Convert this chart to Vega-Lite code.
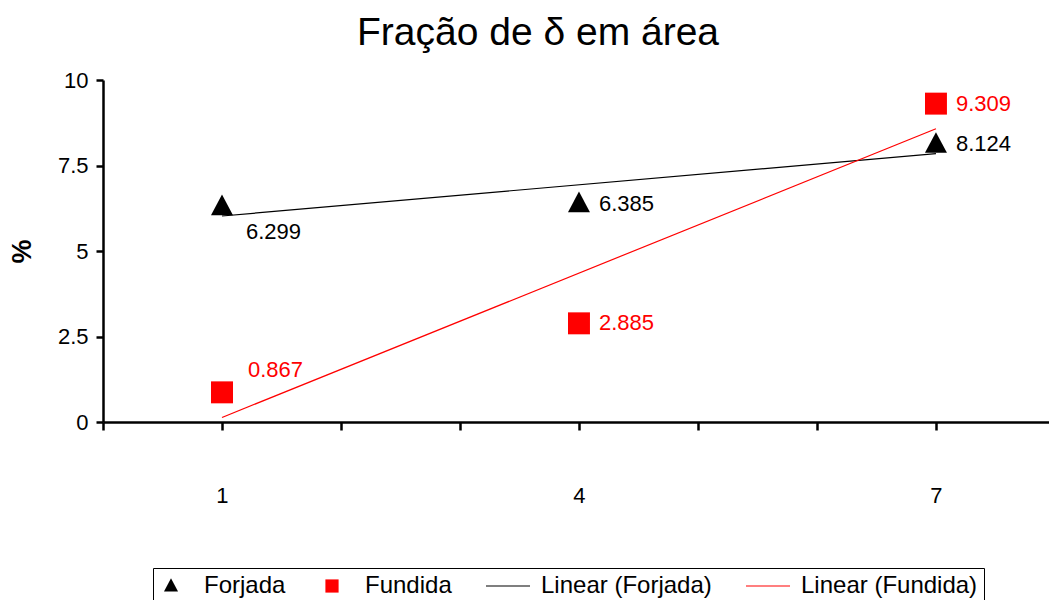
{
  "$schema": "https://vega.github.io/schema/vega-lite/v6.json",
  "width": 946,
  "height": 342,
  "autosize": {"type": "none"},
  "padding": {"left": 103, "top": 80, "right": 0, "bottom": 178},
  "background": "white",
  "config": {
    "font": "Liberation Sans",
    "view": {"stroke": null},
    "axis": {"labelFont": "Liberation Sans", "titleFont": "Liberation Sans", "labelColor": "black", "domainColor": "black", "tickColor": "black", "grid": false, "labelFontSize": 22, "domainWidth": 2.5, "tickWidth": 2.5}
  },
  "title": {"text": "Fração de δ em área", "fontSize": 39, "fontWeight": "normal", "font": "Liberation Sans", "color": "black", "anchor": "middle", "dx": -38, "offset": 16},
  "data": {"values": [
    {"x": 1, "y": 6.299, "series": "Forjada", "trend": "Linear (Forjada)", "pos": "below"},
    {"x": 4, "y": 6.385, "series": "Forjada", "trend": "Linear (Forjada)", "pos": "right"},
    {"x": 7, "y": 8.124, "series": "Forjada", "trend": "Linear (Forjada)", "pos": "right"},
    {"x": 1, "y": 0.867, "series": "Fundida", "trend": "Linear (Fundida)", "pos": "above"},
    {"x": 4, "y": 2.885, "series": "Fundida", "trend": "Linear (Fundida)", "pos": "right"},
    {"x": 7, "y": 9.309, "series": "Fundida", "trend": "Linear (Fundida)", "pos": "right"}
  ]},
  "encoding": {
    "x": {"field": "x", "type": "quantitative", "scale": {"domain": [0, 7.95], "nice": false, "zero": false},
      "axis": {"title": null, "values": [0, 1, 2, 3, 4, 5, 6, 7], "labelExpr": "datum.value == 1 || datum.value == 4 || datum.value == 7 ? datum.value : ''", "tickSize": 8, "labelPadding": 55}},
    "y": {"field": "y", "type": "quantitative", "scale": {"domain": [0, 10], "nice": false},
      "axis": {"title": "%", "titleFontSize": 27, "titleFontWeight": "bold", "titleColor": "black", "titlePadding": 21, "values": [0, 2.5, 5, 7.5, 10], "labelExpr": "datum.value", "tickSize": 7, "labelPadding": 8}},
    "color": {"field": "series", "type": "nominal",
      "scale": {"domain": ["Forjada", "Fundida", "Linear (Forjada)", "Linear (Fundida)"], "range": ["black", "red", "black", "red"]},
      "legend": {"title": null, "orient": "none", "legendX": 50, "legendY": 488, "direction": "horizontal", "columns": 4, "labelFontSize": 24, "labelFont": "Liberation Sans", "labelColor": "black", "labelLimit": 400, "strokeColor": "black", "fillColor": "white", "padding": 6, "columnPadding": 34, "labelOffset": 21, "symbolSize": 484, "symbolStrokeWidth": 0}}
  },
  "layer": [
    {
      "data": {"values": [{}]},
      "mark": {"type": "rule", "color": "#808080", "strokeWidth": 2},
      "encoding": {"y": {"datum": 10}, "x": null, "color": null}
    },
    {
      "transform": [{"regression": "y", "on": "x", "groupby": ["trend"], "extent": [1, 7]}],
      "mark": {"type": "line", "strokeWidth": 1.2},
      "encoding": {"color": null, "stroke": {"field": "trend", "type": "nominal", "scale": {"domain": ["Linear (Forjada)", "Linear (Fundida)"], "range": ["black", "red"]}, "legend": null}}
    },
    {
      "transform": [{"filter": "datum.series == 'Forjada'"}],
      "mark": {"type": "point", "filled": true, "opacity": 1, "size": 1180},
      "encoding": {
        "shape": {"field": "series", "type": "nominal", "scale": {"domain": ["Forjada", "Fundida", "Linear (Forjada)", "Linear (Fundida)"], "range": ["M0,-0.7L0.64,0.5L-0.64,0.5Z", "M-0.6,-0.6L0.6,-0.6L0.6,0.6L-0.6,0.6Z", "M-2,-0.05L2,-0.05L2,0.05L-2,0.05Z", "M-2,-0.05L2,-0.05L2,0.05L-2,0.05Z"]}}
      }
    },
    {
      "transform": [{"filter": "datum.series == 'Fundida'"}],
      "mark": {"type": "point", "filled": true, "opacity": 1, "size": 1340},
      "encoding": {
        "shape": {"field": "series", "type": "nominal"}
      }
    },
    {
      "transform": [{"filter": "datum.pos == 'right'"}],
      "mark": {"type": "text", "align": "left", "baseline": "middle", "dx": 20, "fontSize": 22},
      "encoding": {"text": {"field": "y", "type": "quantitative", "format": ".3f"}}
    },
    {
      "transform": [{"filter": "datum.pos == 'below'"}],
      "mark": {"type": "text", "align": "left", "baseline": "middle", "dx": 24, "dy": 25, "fontSize": 22},
      "encoding": {"text": {"field": "y", "type": "quantitative", "format": ".3f"}}
    },
    {
      "transform": [{"filter": "datum.pos == 'above'"}],
      "mark": {"type": "text", "align": "left", "baseline": "middle", "dx": 26, "dy": -22, "fontSize": 22},
      "encoding": {"text": {"field": "y", "type": "quantitative", "format": ".3f"}}
    },
    {
      "data": {"values": [{}]},
      "mark": {"type": "text", "align": "center", "baseline": "middle", "fontSize": 22, "color": "black"},
      "encoding": {"x": {"datum": 2.22}, "y": {"datum": 8.83}, "text": {"value": "y = 0.9125x + 5.111"}, "color": null}
    },
    {
      "data": {"values": [{}]},
      "mark": {"type": "text", "align": "center", "baseline": "middle", "fontSize": 22, "color": "black"},
      "encoding": {"x": {"datum": 2.29}, "y": {"datum": 8.07}, "text": {"value": "R2 = 0.7853"}, "color": null}
    },
    {
      "data": {"values": [{}]},
      "mark": {"type": "text", "align": "center", "baseline": "middle", "fontSize": 22, "color": "red"},
      "encoding": {"x": {"datum": 7.09}, "y": {"datum": 1.75}, "text": {"value": "y = 4.221x - 4.0883"}, "color": null}
    },
    {
      "data": {"values": [{}]},
      "mark": {"type": "text", "align": "center", "baseline": "middle", "fontSize": 22, "color": "red"},
      "encoding": {"x": {"datum": 7.13}, "y": {"datum": 0.97}, "text": {"value": "R2 = 0.9168"}, "color": null}
    }
  ]
}
